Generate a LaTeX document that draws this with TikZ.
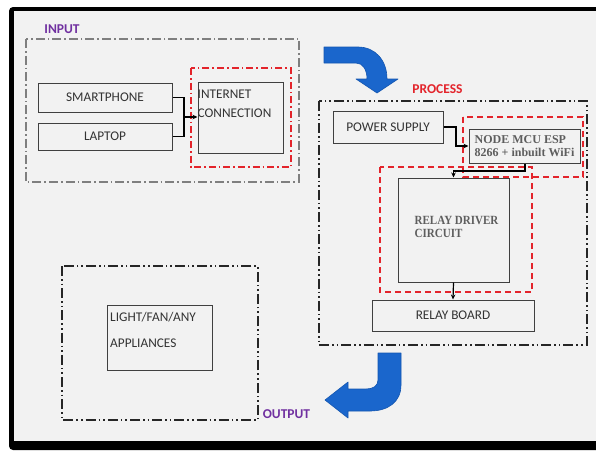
\documentclass[tikz,border=0pt]{standalone}
\usepackage{fontspec}
\setmainfont{Carlito}
\newfontfamily\tnr{Liberation Serif}
\newfontfamily\tnrc[FakeStretch=0.88]{Liberation Serif}
\usetikzlibrary{arrows.meta}
\definecolor{bg}{HTML}{F2F2F2}
\definecolor{txt}{HTML}{333333}
\definecolor{stxt}{HTML}{5E5E5E}
\definecolor{boxc}{HTML}{404040}
\definecolor{redd}{HTML}{E3242B}
\definecolor{purp}{HTML}{7030A0}
\definecolor{bluef}{HTML}{1A66CC}
\definecolor{blued}{HTML}{1456B0}
\definecolor{grayl}{HTML}{7F7F7F}
\tikzset{
  x=1pt,y=-1pt,
  blk/.style={draw=boxc,line width=1pt,rectangle,inner sep=0pt,text=txt,
    font=\fontsize{13.3}{16}\selectfont},
  sblk/.style={blk,text=stxt,font=\tnr\bfseries\fontsize{12}{13}\selectfont,align=left},
  ingrp/.style={draw=grayl,line width=1.4pt,dash pattern=on 9pt off 3pt on 1.6pt off 3pt},
  redgrp/.style={draw=redd,line width=1.4pt,dash pattern=on 7pt off 3pt on 1.6pt off 3pt},
  blkgrp/.style={draw=black!85,line width=1.8pt,dash pattern=on 10pt off 3pt on 1.6pt off 3pt on 1.6pt off 3pt},
  reddash/.style={draw=redd,line width=1.8pt,dash pattern=on 6pt off 4pt},
  conn/.style={draw=black,line width=1.2pt},
  arr/.style={conn,-{Stealth[length=5pt,width=4.5pt]}},
  ttl/.style={font=\bfseries\fontsize{13.5}{16}\selectfont,inner sep=0pt},
  bigarrow/.style={fill=bluef,draw=blued,line width=0.6pt,line join=round},
}
\begin{document}
\begin{tikzpicture}
\useasboundingbox (0,0) rectangle (596,450);
\fill[white] (0,0) rectangle (596,450);
\fill[black] (9,7) [rounded corners=4pt] -- (600,7) -- (600,450) -- (9,450) -- cycle;
\fill[bg] (14,11) rectangle (600,441);

% group frames
\draw[ingrp] (26,39) rectangle (299,182);
\draw[redgrp] (191,68) rectangle (291,167);
\draw[blkgrp] (319,101) rectangle (587,345);
\draw[reddash] (463,117) rectangle (583,177);
\draw[reddash] (380,167) rectangle (532,292);
\draw[blkgrp] (62,266) rectangle (258,420);

% titles
\node[ttl,text=purp] (tin) at (62,29) {INPUT};
\node[ttl,text=redd] (tproc) at (437.5,89) {PROCESS};
\node[ttl,text=purp] (tout) at (286.5,414) {OUTPUT};

% blocks
\node[blk,minimum width=134pt,minimum height=29pt] (sp) at (105,97.5) {SMARTPHONE};
\node[blk,minimum width=134pt,minimum height=27pt] (lap) at (105,136.5) {LAPTOP};
\node[blk,minimum width=85pt,minimum height=71pt,
  label={[anchor=north west,inner sep=0pt,yshift=-3pt,align=left,text=txt,font=\fontsize{13.3}{19}\selectfont]north west:{\strut INTERNET\\CONNECTION}}]
  (inet) at (240.5,117.5) {};
\node[blk,minimum width=110pt,minimum height=32pt] (ps) at (388,127) {POWER SUPPLY};
\node[sblk,minimum width=111pt,minimum height=34pt] (mcu) at (524.5,146) {NODE MCU ESP\\8266 + inbuilt WiFi};
\node[blk,minimum width=111pt,minimum height=104pt,
  label={[anchor=west,inner sep=0pt,xshift=17pt,yshift=3pt,align=left,text=stxt,font=\tnrc\bfseries\fontsize{12.5}{12.5}\selectfont]west:{RELAY DRIVER\\CIRCUIT}}]
  (relay) at (453.5,230) {};
\node[blk,minimum width=162pt,minimum height=31pt] (rb) at (453,315.5) {RELAY BOARD};
\node[blk,minimum width=105pt,minimum height=65pt] (app) at (159.5,337.5) {};
\node[anchor=north west,inner sep=0pt,align=left,text=txt,font=\fontsize{13.3}{26}\selectfont] (apptxt) at (110,303) {\strut LIGHT/FAN/ANY\\APPLIANCES};

% connectors
\coordinate (j1) at (184,117);
\draw[conn] (sp.east) -| (j1);
\draw[conn] (lap.east) -| (j1);
\draw[arr] (j1) -- (inet.west |- j1);
\coordinate (j3) at (456,127);
\draw[arr] (ps.east) -- (j3) |- (mcu.west);
\coordinate (j2) at (525,171);
\draw[arr] (mcu.south -| j2) -- (j2) -- (relay.north |- j2) -- (relay.north);
\draw[arr] (relay.south) -- (rb.north);

% big blue arrows
\draw[bigarrow] (324,47) -- (358,47) .. controls (375,47) and (387,60) .. (387,79)
  -- (398,79) -- (377,93) -- (356,79) -- (367,79)
  .. controls (367,70) and (363,63) .. (356,63) -- (324,63) -- cycle;
\draw[bigarrow] (378,353) -- (401,353) -- (401,385)
  .. controls (401,402) and (388,411) .. (370,411) -- (348,411) -- (348,418)
  -- (325,400) -- (348,382) -- (348,389) -- (366,389)
  .. controls (373,389) and (378,386) .. (378,380) -- cycle;
\end{tikzpicture}
\end{document}
